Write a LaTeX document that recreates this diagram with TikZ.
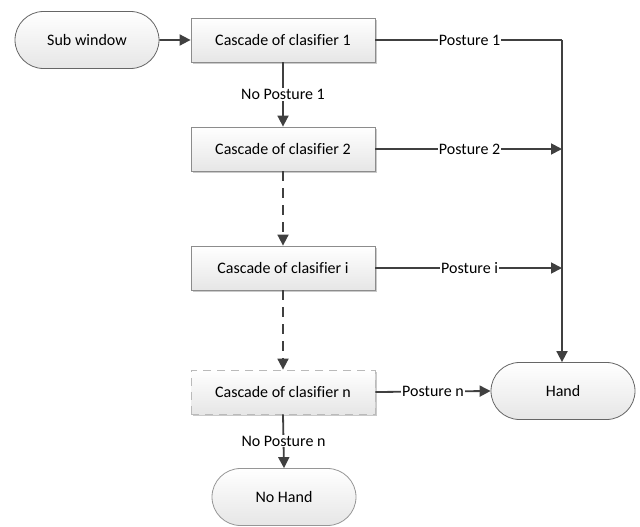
\documentclass[tikz,border=0pt]{standalone}
\usepackage{fontspec}
\setmainfont{Carlito}[Ligatures=NoCommon]
\usetikzlibrary{arrows.meta,shapes.misc,shadows}
\definecolor{linec}{HTML}{404040}
\definecolor{boxb}{HTML}{8C8C8C}
\definecolor{fillb}{HTML}{E6E6E6}
\tikzset{
  cbox/.style={draw=boxb, line width=0.8pt, top color=white, bottom color=fillb,
    minimum width=184pt, minimum height=44pt, inner sep=0pt, font=\fontsize{16}{18}\selectfont,
    drop shadow={shadow xshift=2pt, shadow yshift=-2pt, fill=black!35, opacity=0.6}},
  term/.style={draw=linec!80, line width=0.8pt, rounded rectangle, top color=white, bottom color=fillb,
    minimum width=144pt, minimum height=57pt, inner sep=0pt, font=\fontsize{16}{18}\selectfont},
  conn/.style={draw=linec, line width=1.8pt},
  arr/.style={conn, -{Triangle[length=11pt,width=11pt]}},
  dline/.style={dash pattern=on 10pt off 7pt},
  lbl/.style={fill=white, inner sep=1pt, font=\fontsize{16}{18}\selectfont}
}
\begin{document}
\begin{tikzpicture}[x=1pt,y=-1pt]
\useasboundingbox (0,0) rectangle (640,527);
\node[term] (sw) at (87,40) {Sub window};
\node[cbox] (c1) at (283,40) {Cascade of clasifier 1};
\node[cbox] (c2) at (283,149) {Cascade of clasifier 2};
\node[cbox] (ci) at (283,268) {Cascade of clasifier i};
\node[cbox, draw=boxb!60, dash pattern=on 8pt off 6pt, drop shadow={opacity=0}] (cn) at (283,392) {Cascade of clasifier n};
\node[term] (hand) at (563,391) {Hand};
\node[term, draw=linec!55] (nh) at (284,497) {No Hand};
\coordinate (j1) at (562,40);
\coordinate (j2) at (562,149);
\coordinate (ji) at (562,268);
\draw[arr] (sw) -- (c1);
\draw[conn] (c1.east) -- node[lbl, pos=0.505]{Posture 1} (j1);
\draw[arr] (j1) -- (hand.north -| j1);
\draw[arr] (c2.east) -- node[lbl, pos=0.505]{Posture 2} (j2);
\draw[arr] (ci.east) -- node[lbl, pos=0.505]{Posture i} (ji);
\draw[arr] (cn.east) -- node[lbl]{Posture n} (hand.west);
\draw[arr] (c1.south) -- node[lbl]{No Posture 1} (c2.north);
\draw[arr, dline] (c2.south) -- (ci.north);
\draw[arr, dline] (ci.south) -- (cn.north);
\draw[arr] (cn.south) -- node[lbl]{No Posture n} (nh.north);
\end{tikzpicture}
\end{document}
